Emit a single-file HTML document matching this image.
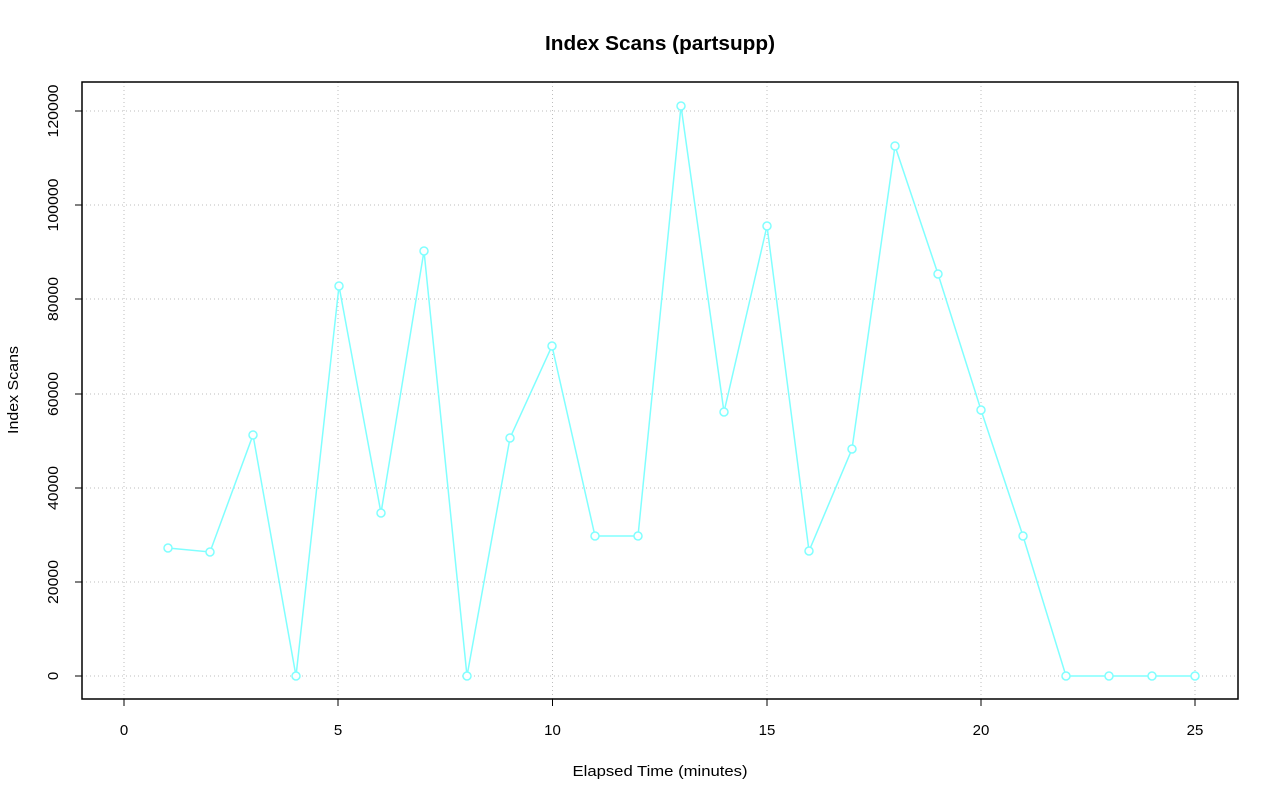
<!DOCTYPE html>
<html><head><meta charset="utf-8"><style>
html,body{margin:0;padding:0;background:#fff;}
svg{display:block;font-family:"Liberation Sans",sans-serif;}
</style></head><body>
<svg width="1280" height="801" viewBox="0 0 1280 801" xmlns="http://www.w3.org/2000/svg">
<rect width="1280" height="801" fill="#fff"/>
<text x="545" y="50" font-size="20" font-weight="bold" textLength="230" lengthAdjust="spacingAndGlyphs">Index Scans (partsupp)</text>
<g stroke="#bdbdbd" stroke-width="1" stroke-dasharray="1,3">
<line x1="124" y1="82" x2="124" y2="699"/>
<line x1="338" y1="82" x2="338" y2="699"/>
<line x1="552.5" y1="82" x2="552.5" y2="699"/>
<line x1="767" y1="82" x2="767" y2="699"/>
<line x1="981" y1="82" x2="981" y2="699"/>
<line x1="1195" y1="82" x2="1195" y2="699"/>
<line x1="82" y1="676" x2="1238" y2="676"/>
<line x1="82" y1="582" x2="1238" y2="582"/>
<line x1="82" y1="488" x2="1238" y2="488"/>
<line x1="82" y1="394" x2="1238" y2="394"/>
<line x1="82" y1="299" x2="1238" y2="299"/>
<line x1="82" y1="205" x2="1238" y2="205"/>
<line x1="82" y1="111" x2="1238" y2="111"/>
</g>
<rect x="82" y="82" width="1156" height="617" fill="none" stroke="#000" stroke-width="1.5"/>
<g stroke="#000" stroke-width="1">
<line x1="124" y1="699" x2="124" y2="706"/><line x1="338" y1="699" x2="338" y2="706"/>
<line x1="552.5" y1="699" x2="552.5" y2="706"/><line x1="767" y1="699" x2="767" y2="706"/>
<line x1="981" y1="699" x2="981" y2="706"/><line x1="1195" y1="699" x2="1195" y2="706"/>
<line x1="82" y1="676" x2="75" y2="676"/><line x1="82" y1="582" x2="75" y2="582"/>
<line x1="82" y1="488" x2="75" y2="488"/><line x1="82" y1="394" x2="75" y2="394"/>
<line x1="82" y1="299" x2="75" y2="299"/><line x1="82" y1="205" x2="75" y2="205"/>
<line x1="82" y1="111" x2="75" y2="111"/>
</g>
<g font-size="15" text-anchor="middle">
<text x="124" y="735">0</text><text x="338" y="735">5</text><text x="552.5" y="735">10</text>
<text x="767" y="735">15</text><text x="981" y="735">20</text><text x="1195" y="735">25</text>
<text transform="translate(58,676) rotate(-90)">0</text>
<text transform="translate(58,582) rotate(-90)" textLength="44" lengthAdjust="spacingAndGlyphs">20000</text>
<text transform="translate(58,488) rotate(-90)" textLength="44" lengthAdjust="spacingAndGlyphs">40000</text>
<text transform="translate(58,394) rotate(-90)" textLength="44" lengthAdjust="spacingAndGlyphs">60000</text>
<text transform="translate(58,299) rotate(-90)" textLength="44" lengthAdjust="spacingAndGlyphs">80000</text>
<text transform="translate(58,205) rotate(-90)" textLength="53" lengthAdjust="spacingAndGlyphs">100000</text>
<text transform="translate(58,111) rotate(-90)" textLength="53" lengthAdjust="spacingAndGlyphs">120000</text>
<text x="660" y="776" textLength="175" lengthAdjust="spacingAndGlyphs">Elapsed Time (minutes)</text>
<text transform="translate(18,390) rotate(-90)" textLength="88" lengthAdjust="spacingAndGlyphs">Index Scans</text>
</g>
<polyline fill="none" stroke="#80ffff" stroke-width="1.5" points="168,548 210,552 253,435 296,676 339,286 381,513 424,251 467,676 510,438 552,346 595,536 638,536 681,106 724,412 767,226 809,551 852,449 895,146 938,274 981,410 1023,536 1066,676 1109,676 1152,676 1195,676"/>
<g fill="#fff" stroke="#80ffff" stroke-width="1.5">
<circle cx="168" cy="548" r="4"/><circle cx="210" cy="552" r="4"/><circle cx="253" cy="435" r="4"/>
<circle cx="296" cy="676" r="4"/><circle cx="339" cy="286" r="4"/><circle cx="381" cy="513" r="4"/>
<circle cx="424" cy="251" r="4"/><circle cx="467" cy="676" r="4"/><circle cx="510" cy="438" r="4"/>
<circle cx="552" cy="346" r="4"/><circle cx="595" cy="536" r="4"/><circle cx="638" cy="536" r="4"/>
<circle cx="681" cy="106" r="4"/><circle cx="724" cy="412" r="4"/><circle cx="767" cy="226" r="4"/>
<circle cx="809" cy="551" r="4"/><circle cx="852" cy="449" r="4"/><circle cx="895" cy="146" r="4"/>
<circle cx="938" cy="274" r="4"/><circle cx="981" cy="410" r="4"/><circle cx="1023" cy="536" r="4"/>
<circle cx="1066" cy="676" r="4"/><circle cx="1109" cy="676" r="4"/><circle cx="1152" cy="676" r="4"/>
<circle cx="1195" cy="676" r="4"/>
</g>
</svg>
</body></html>
